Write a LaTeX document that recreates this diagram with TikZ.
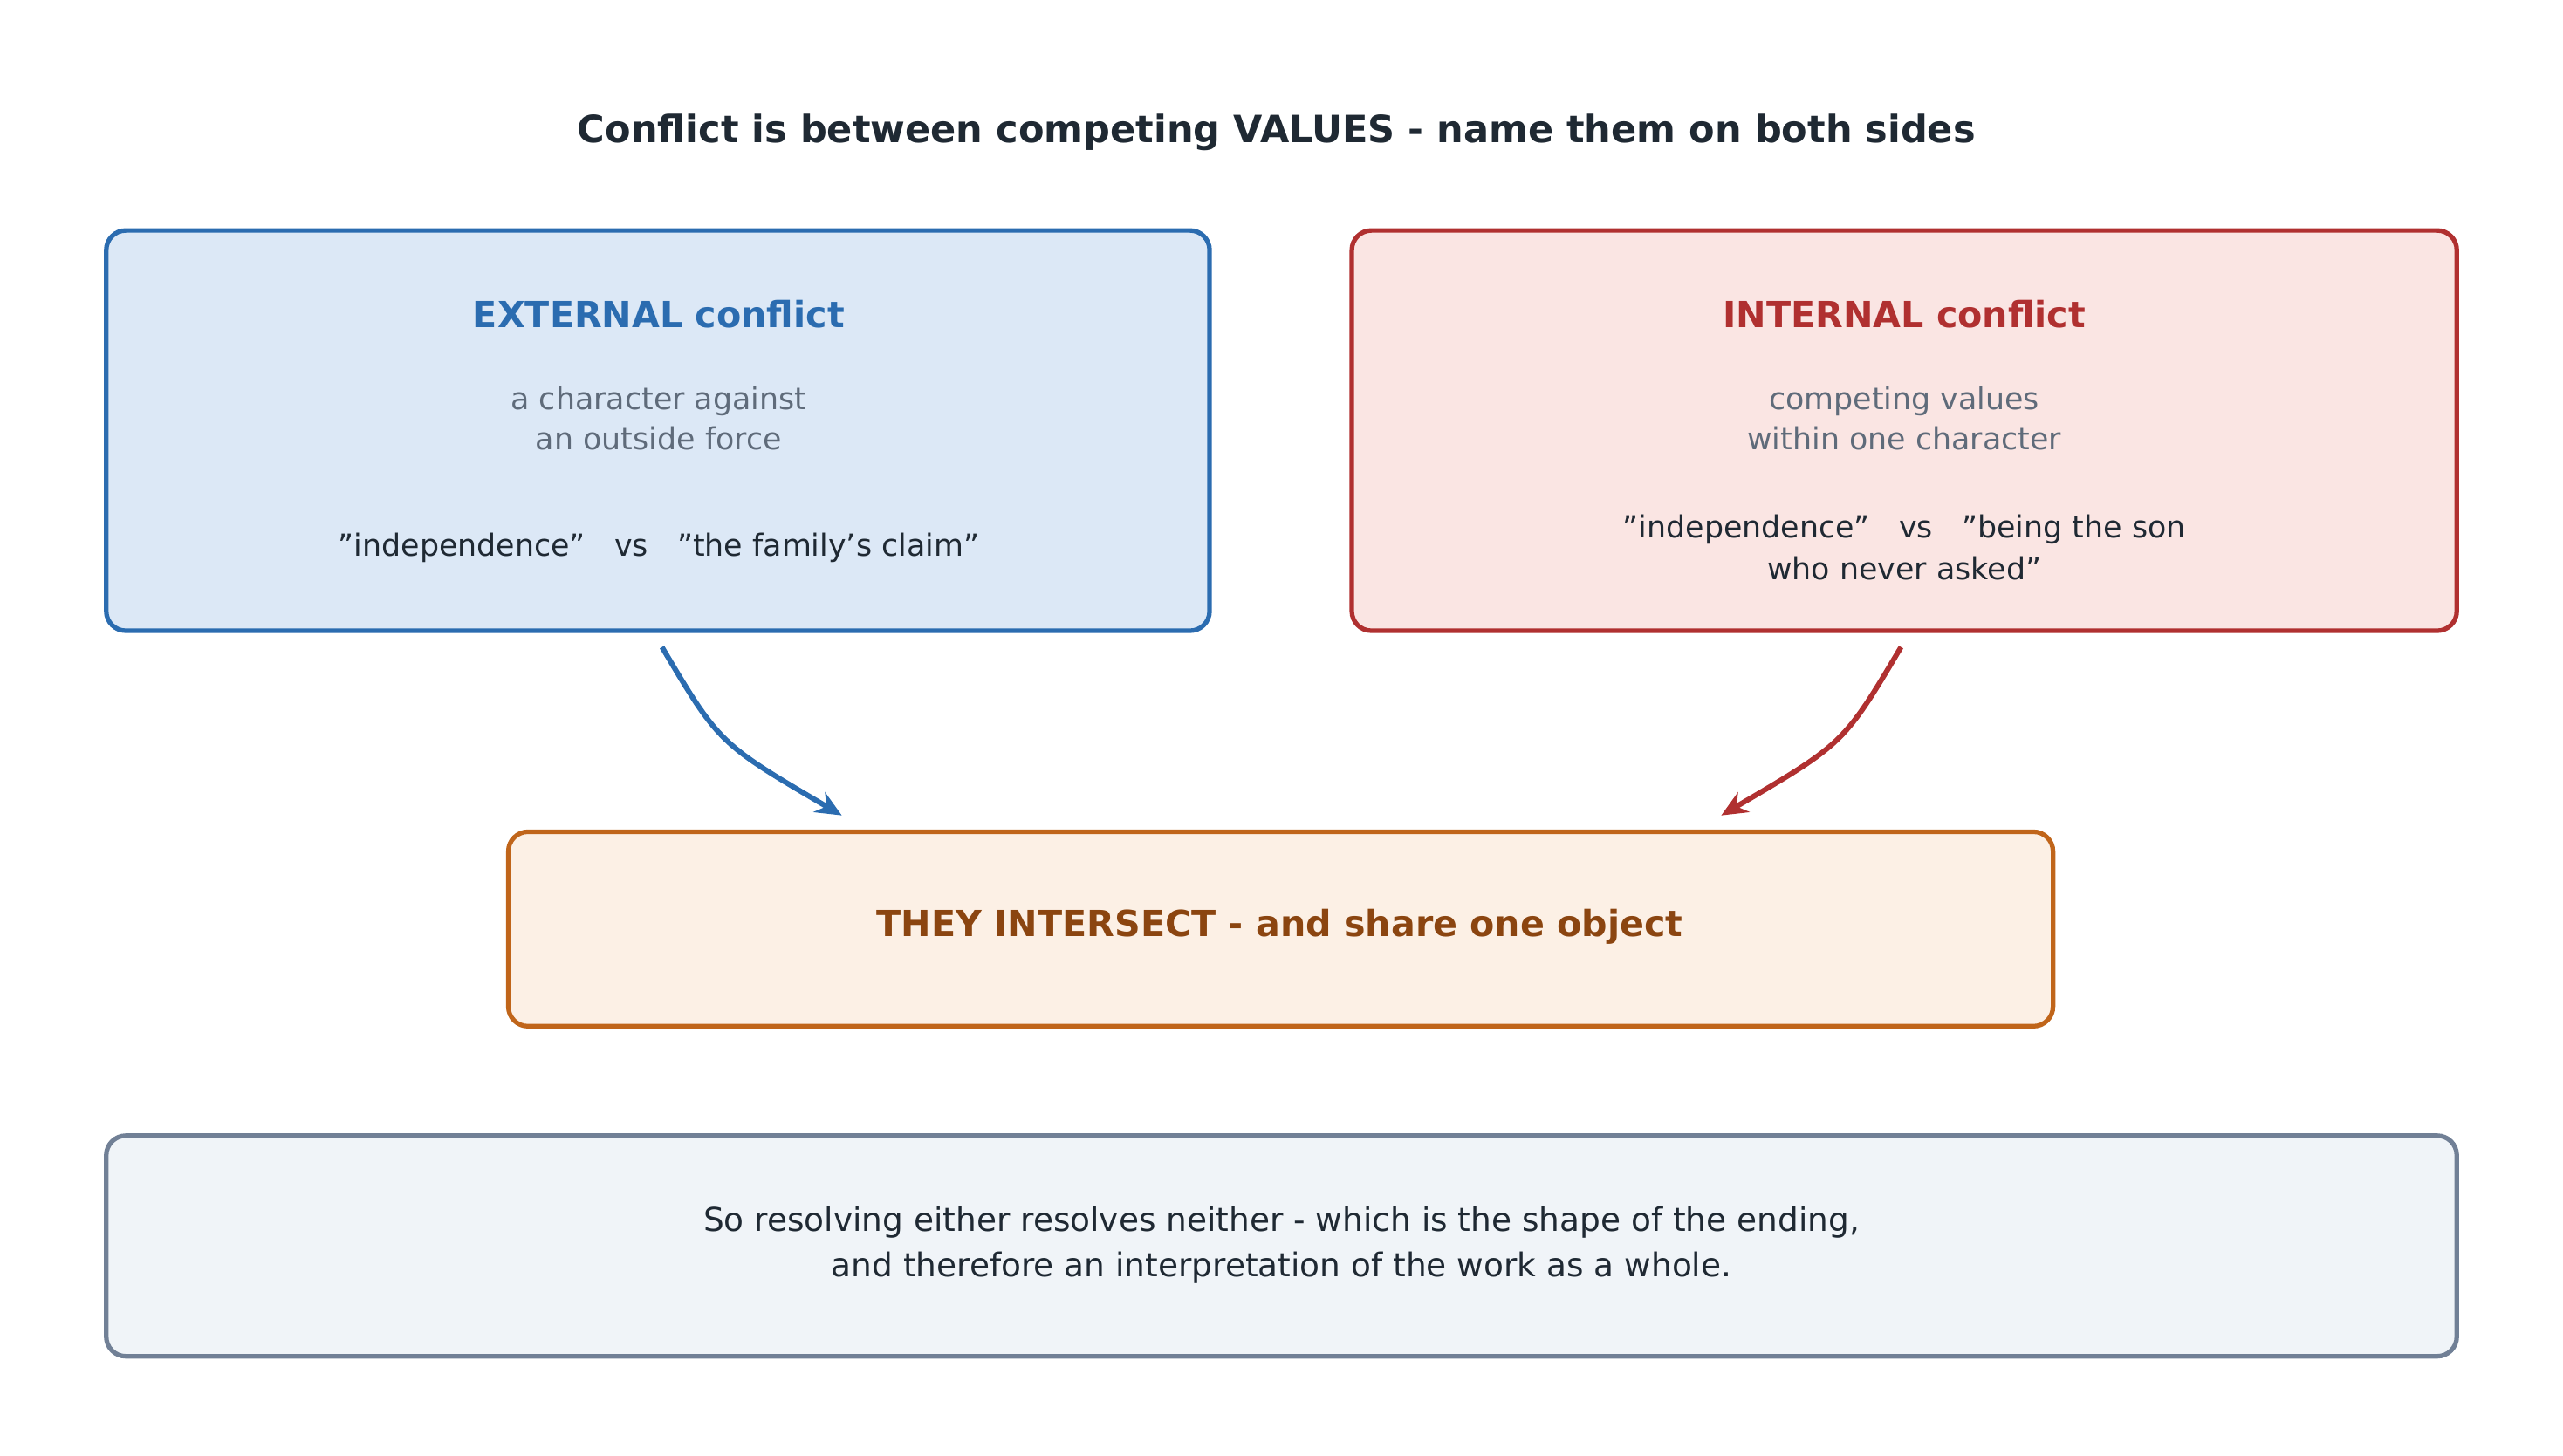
\documentclass[tikz,border=0pt]{standalone}
\usepackage{fontspec}
\setmainfont{DejaVu Sans}
\usetikzlibrary{arrows.meta}
\definecolor{bl}{HTML}{2B6CB0}\definecolor{blf}{HTML}{DCE8F6}
\definecolor{rd}{HTML}{B03030}\definecolor{rdf}{HTML}{FAE5E3}
\definecolor{or}{HTML}{C0651A}\definecolor{orf}{HTML}{FCF0E5}\definecolor{ort}{HTML}{8B4510}
\definecolor{gy}{HTML}{718096}\definecolor{gyf}{HTML}{F0F4F8}
\definecolor{sub}{HTML}{5F6B7A}\definecolor{dk}{HTML}{1F2933}
\begin{document}
\begin{tikzpicture}[x=0.5pt,y=-0.5pt,
 box/.style={draw,line width=1.4pt,rounded corners=6pt,inner sep=0pt},
 ttl/.style={font=\bfseries\fontsize{11}{13}\selectfont},
 st/.style={text=sub,align=center,font=\fontsize{9.3}{12.5}\selectfont},
 qt/.style={text=dk,align=center,font=\fontsize{9.3}{13}\selectfont},
 arr/.style={line width=1.6pt,-{Stealth[length=8pt,width=7pt]}}]
\useasboundingbox (0,0) rectangle (1568,891);
\node[text=dk,font=\bfseries\fontsize{11.5}{14}\selectfont] (title) at (781,81) {Conflict is between competing VALUES - name them on both sides};
\node[box,draw=bl,fill=blf,minimum width=337.5pt,minimum height=122.5pt] (ext) at (402.5,263.5) {};
\node[box,draw=rd,fill=rdf,minimum width=338pt,minimum height=122.5pt] (int) at (1165,263.5) {};
\node[box,draw=or,fill=orf,minimum width=472.5pt,minimum height=59.5pt] (mid) at (783.5,568.5) {};
\node[box,draw=gy,fill=gyf,minimum width=719pt,minimum height=67.5pt] (bot) at (784,762.5) {};
\node[ttl,text=bl] (et) at (403,192) {EXTERNAL conflict};
\node[st] (es) at (403,256) {a character against\\an outside force};
\node[qt] (eq) at (403,335) {"independence"\ \ \ vs\ \ \ "the family's claim"};
\node[ttl,text=rd] (it) at (1165,192) {INTERNAL conflict};
\node[st] (is) at (1165,256) {competing values\\within one character};
\node[qt] (iq) at (1165,335) {"independence"\ \ \ vs\ \ \ "being the son\\who never asked"};
\node[ttl,text=ort] (mt) at (783,567) {THEY INTERSECT - and share one object};
\node[qt,font=\fontsize{10}{14}\selectfont] (bt) at (784,762) {So resolving either resolves neither - which is the shape of the ending,\\and therefore an interpretation of the work as a whole.};
\coordinate (a1) at (405,396); \coordinate (a2) at (515,499);
\coordinate (b1) at (1163,396); \coordinate (b2) at (1053,499);
\draw[arr,bl] (a1) .. controls (440,455) .. (a2);
\draw[arr,rd] (b1) .. controls (1128,455) .. (b2);
\end{tikzpicture}
\end{document}
